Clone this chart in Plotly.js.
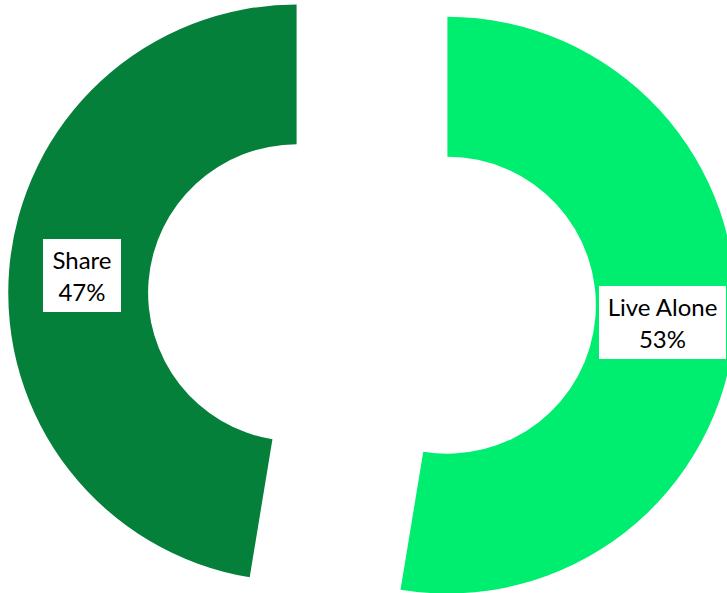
<!DOCTYPE html>
<html>
<head>
<meta charset="utf-8">
<script src="https://cdn.plot.ly/plotly-3.0.1.min.js"></script>
<style>
  html, body { margin: 0; padding: 0; width: 727px; height: 593px; overflow: hidden; background: #fff; }
  #chart { position: absolute; left: 8px; top: -65px; width: 728px; height: 728px; }
</style>
</head>
<body>
<div id="chart"></div>
<script>
// Data (clockwise from 12 o'clock)
const labels = ["Live Alone", "Share"];
const values = [52.6, 47.4];
const colors = ["#00EE6F", "#05803A"];
const boxWidths = [127, 78];

const W = 728, H = 728;
const pull = 0.2624;
const hole = 0.515;

const total = values.reduce((a, b) => a + b, 0);
const r = Math.min(W, H) / 2 / (1 + pull);
const annotations = [];
let cum = 0;
values.forEach((v, i) => {
  const frac = v / total;
  const mid = (cum + frac / 2) * 2 * Math.PI; // clockwise from top
  cum += frac;
  const d = r * pull + r * (1 + hole) / 2 * 0.988;
  const px = W / 2 + d * Math.sin(mid);
  const py = H / 2 - d * Math.cos(mid);
  annotations.push({
    xref: "paper", yref: "paper",
    x: px / W, y: 1 - py / H,
    xanchor: "center", yanchor: "middle",
    showarrow: false,
    text: labels[i] + "<br>" + Math.round(frac * 100) + "%",
    font: { family: "Lato, 'Open Sans', sans-serif", size: 24, color: "#000" },
    bgcolor: "#ffffff",
    width: boxWidths[i],
    height: 73,
    borderpad: 0,
    borderwidth: 0
  });
});

const trace = {
  type: "pie",
  labels: labels,
  values: values,
  sort: false,
  direction: "clockwise",
  rotation: 0,
  hole: hole,
  pull: values.map(() => pull),
  marker: { colors: colors, line: { width: 0 } },
  textinfo: "none",
  hoverinfo: "skip"
};

const layout = {
  width: W, height: H,
  margin: { l: 0, r: 0, t: 0, b: 0 },
  showlegend: false,
  paper_bgcolor: "rgba(0,0,0,0)",
  plot_bgcolor: "rgba(0,0,0,0)",
  annotations: annotations
};

Plotly.newPlot("chart", [trace], layout, { staticPlot: true, displayModeBar: false });
</script>
</body>
</html>
